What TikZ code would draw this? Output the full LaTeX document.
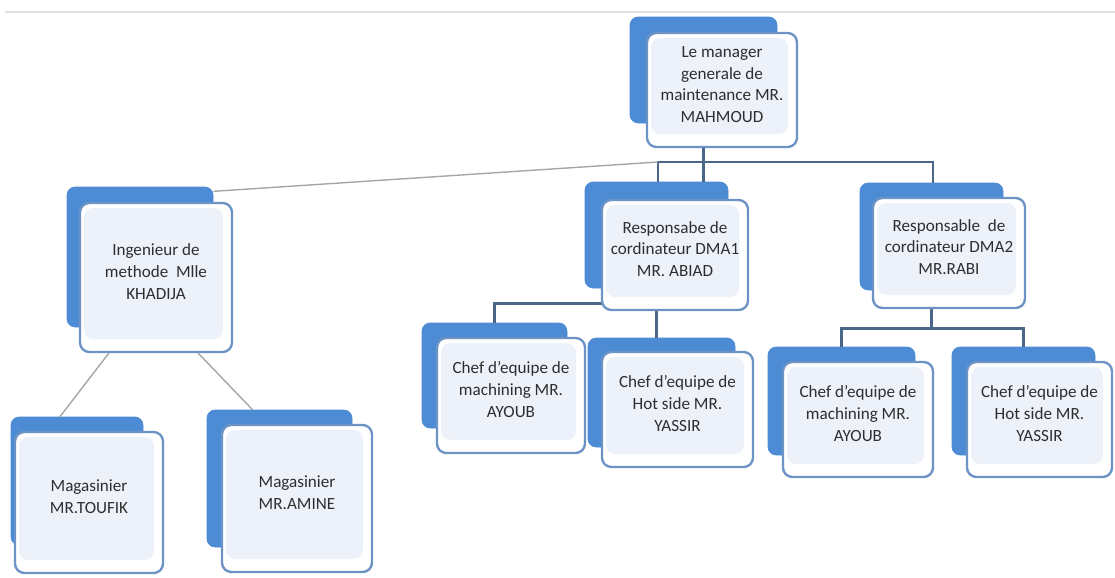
\documentclass[tikz,border=0pt]{standalone}
\usepackage{fontspec}
\setmainfont{Carlito}
\usetikzlibrary{fit}
\newdimen\upx \upx=0.03cm
\definecolor{backblue}{HTML}{4D8CD4}
\definecolor{frontedge}{HTML}{6C93C4}
\definecolor{innerfill}{HTML}{ECF1FA}
\definecolor{treeline}{HTML}{4A6789}
\definecolor{greyline}{HTML}{A6A6A6}
\definecolor{txtcol}{HTML}{2E2E2E}
\tikzset{
  backbox/.style={fill=backblue, draw=backblue, line width=0.6pt, rounded corners=7pt, inner sep=0pt},
  frontbox/.style={fill=white, draw=frontedge, line width=2pt, rounded corners=8pt, inner sep=0pt,
    align=center, text=txtcol, font=\fontsize{14.6}{18.5}\selectfont,
    path picture={\fill[innerfill] ([shift={(4\upx,13\upx)}]path picture bounding box.south west) rectangle ([shift={(-9\upx,-5\upx)}]path picture bounding box.north east);}},
  tree/.style={draw=treeline, line width=2.1pt},
  greyconn/.style={draw=greyline, line width=1.2pt},
}
\begin{document}
\begin{tikzpicture}[x=0.03cm, y=-0.03cm]
\useasboundingbox (0,0) rectangle (1115,577);
% faint page rule at the top
\draw[draw=black!12, line width=1.5pt] (5,12) -- (1115,12);

% back boxes
\node[backbox, fit={(630,17) (777,123)}] (top-b) {};
\node[backbox, fit={(67,187) (213,327)}] (ing-b) {};
\node[backbox, fit={(585,182) (728,288)}] (dma1-b) {};
\node[backbox, fit={(860,183) (1003,290)}] (dma2-b) {};
\node[backbox, fit={(422,323) (567,428)}] (mach1-b) {};
\node[backbox, fit={(588,338) (735,447)}] (hot1-b) {};
\node[backbox, fit={(768,347) (915,455)}] (mach2-b) {};
\node[backbox, fit={(952,347) (1095,455)}] (hot2-b) {};
\node[backbox, fit={(11,417) (143,545)}] (tou-b) {};
\node[backbox, fit={(207,410) (352,547)}] (ami-b) {};

% connectors (drawn beneath the front boxes)
\coordinate (barL) at (658,162);
\coordinate (barR) at (933,162);
\draw[tree] (top-b.south) -- (top-b.south |- dma1-b.north);
\draw[tree] (barL |- dma1-b.north) -- (barL) -- (barR) -- (barR |- dma2-b.north);
\draw[greyconn] ([yshift=-4pt]ing-b.north east) -- (barL);
\draw[tree] (dma1-b.south) -- ++(0,15) -| (mach1-b.north);
\draw[tree] (dma1-b.south) -- (dma1-b.south |- hot1-b.north);
\draw[tree] (dma2-b.south) -- ++(0,38) -| (mach2-b.north);
\draw[tree] (dma2-b.south) -- ++(0,38) -| (hot2-b.north);

% front boxes
\node[frontbox, fit={(647,33) (797,147)}] (top) {Le manager\\generale de\\maintenance MR.\\MAHMOUD};
\node[frontbox, fit={(80,203) (232,352)}] (ing) {Ingenieur de\\methode~ Mlle\\KHADIJA};
\node[frontbox, fit={(602,200) (748,310)}] (dma1) {Responsabe de\\cordinateur DMA1\\MR. ABIAD};
\node[frontbox, fit={(873,198) (1025,308)}] (dma2) {Responsable~ de\\cordinateur DMA2\\MR.RABI};
\node[frontbox, fit={(437,338) (585,453)}] (mach1) {Chef d'equipe de\\machining MR.\\AYOUB};
\node[frontbox, fit={(602,352) (753,467)}] (hot1) {Chef d'equipe de\\Hot side MR.\\YASSIR};
\node[frontbox, fit={(783,362) (933,477)}] (mach2) {Chef d'equipe de\\machining MR.\\AYOUB};
\node[frontbox, fit={(967,362) (1112,477)}] (hot2) {Chef d'equipe de\\Hot side MR.\\YASSIR};
\node[frontbox, fit={(15,432) (163,573)}] (tou) {Magasinier\\MR.TOUFIK};
\node[frontbox, fit={(222,425) (372,572)}] (ami) {Magasinier\\MR.AMINE};

% grey links from the engineer to the storekeepers
\draw[greyconn] ([xshift=30\upx]ing.south west) -- ([xshift=-17\upx]tou-b.north);
\draw[greyconn] ([xshift=-35\upx]ing.south east) -- ([xshift=-27\upx]ami-b.north);
\end{tikzpicture}
\end{document}
